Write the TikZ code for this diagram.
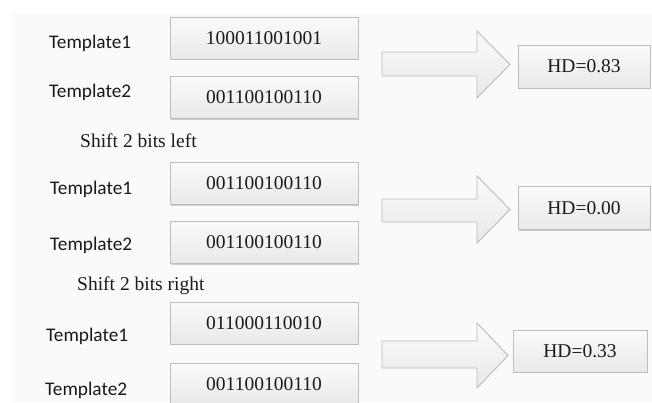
\documentclass[tikz,border=0pt]{standalone}
\usepackage{fontspec}
\setmainfont{Liberation Serif}
\newfontfamily\labelfont{Carlito}
\usetikzlibrary{shadows}
\definecolor{panel}{HTML}{FAFAFA}
\definecolor{boxline}{HTML}{BDBDBD}
\definecolor{boxtop}{HTML}{FAFAFA}
\definecolor{boxbot}{HTML}{E9E9E9}
\definecolor{arrowline}{HTML}{BBBBBB}
\definecolor{inktext}{HTML}{1A1A1A}
\begin{document}
\begin{tikzpicture}[x=1pt,y=-1pt,
  bitbox/.style={draw=boxline, line width=0.9pt, top color=boxtop, bottom color=boxbot,
    minimum width=188pt, minimum height=42pt, inner sep=0pt, text=inktext,
    font=\fontsize{19.5}{23}\selectfont,
    drop shadow={shadow xshift=1.2pt, shadow yshift=-1.2pt, opacity=0.18, fill=black}},
  hdbox/.style={bitbox, minimum width=132pt, minimum height=43pt},
  tlabel/.style={anchor=base west, inner sep=0pt, text=inktext,
    font=\labelfont\fontsize{19.3}{23}\selectfont},
  shiftlabel/.style={anchor=base west, inner sep=0pt, text=inktext,
    font=\fontsize{19.5}{23}\selectfont},
  blockarrow/.style={draw=arrowline, line width=0.9pt, line join=miter,
    top color=boxtop, bottom color=boxbot}]

% page and light panel
\path[fill=white] (0,0) rectangle (652,402);
\useasboundingbox (0,0) rectangle (652,402);
\path[fill=panel] (12,13) rectangle (652,402);

% ---- first comparison ----
\node[tlabel] (l1a) at (49,48) {Template1};
\node[tlabel] (l1b) at (49,97) {Template2};
\node[bitbox] (b1a) at (264,38) {100011001001};
\node[bitbox] (b1b) at (264,97.5) {001100100110};
\path[blockarrow] (382,52) -- (477,52) -- (477,31) -- (510,64.5)
  -- (477,98) -- (477,76) -- (382,76) -- cycle;
\node[hdbox] (h1) at (584,66.5) {HD=0.83};

% ---- shifted left ----
\node[shiftlabel] (s1) at (80,147) {Shift 2 bits left};
\node[tlabel] (l2a) at (50,194) {Template1};
\node[tlabel] (l2b) at (50,250) {Template2};
\node[bitbox] (b2a) at (264,183.5) {001100100110};
\node[bitbox] (b2b) at (264,242.5) {001100100110};
\path[blockarrow] (382,199) -- (477,199) -- (477,176) -- (510,209.5)
  -- (477,243) -- (477,222) -- (382,222) -- cycle;
\node[hdbox] (h2) at (584,208) {HD=0.00};

% ---- shifted right ----
\node[shiftlabel] (s2) at (77,290) {Shift 2 bits right};
\node[tlabel] (l3a) at (46,341) {Template1};
\node[tlabel] (l3b) at (45,395.5) {Template2};
\node[bitbox] (b3a) at (264,323) {011000110010};
\node[bitbox] (b3b) at (264,384) {001100100110};
\path[blockarrow] (382,341) -- (477,341) -- (477,323) -- (508,355.5)
  -- (477,388) -- (477,368) -- (382,368) -- cycle;
\node[hdbox, minimum width=134pt, minimum height=42pt] (h3) at (580,351) {HD=0.33};
\end{tikzpicture}
\end{document}
